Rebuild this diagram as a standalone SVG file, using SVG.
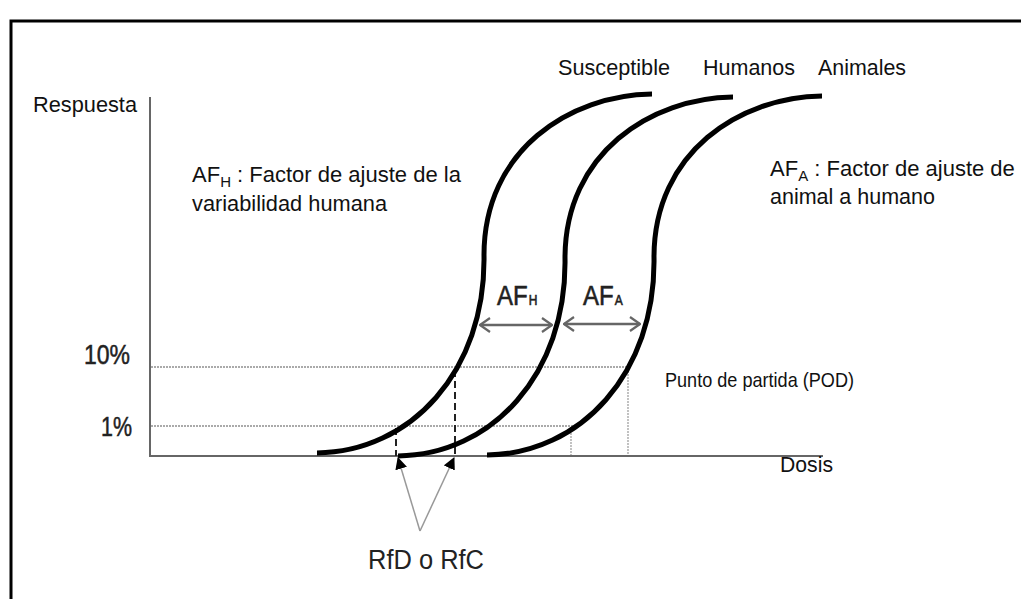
<svg xmlns="http://www.w3.org/2000/svg" width="1021" height="599" viewBox="0 0 1021 599">
<style>
.t{font-family:"Liberation Sans",Arial,sans-serif;fill:#111;font-size:22px}
.big{font-family:"Liberation Sans",Arial,sans-serif;fill:#222;font-size:27px}
.mid{font-family:"Liberation Sans",Arial,sans-serif;fill:#222;font-size:24px;stroke:#222;stroke-width:0.5}
.bold{stroke:#222;stroke-width:0.5}
.axis{stroke:#666;stroke-width:2;fill:none}
.dot{stroke:#aaa;stroke-width:2;stroke-dasharray:2 1;fill:none}
.vdot{stroke:#999;stroke-width:1.2;stroke-dasharray:2 1;fill:none}
.dash{stroke:#222;stroke-width:2;stroke-dasharray:7 4;fill:none}
.curve{stroke:#000;stroke-width:5;fill:none}
.dbl{stroke:#666;stroke-width:2.5;fill:none}
.ptr{stroke:#999;stroke-width:1.5;fill:none}
</style>
<defs>
<marker id="chev" viewBox="0 0 12 16" refX="11" refY="8" markerWidth="12" markerHeight="16" markerUnits="userSpaceOnUse" orient="auto-start-reverse">
<path d="M1 1 L11 8 L1 15" fill="none" stroke="#666" stroke-width="2.2"/>
</marker>
<marker id="tri" viewBox="0 0 12 12" refX="11" refY="6" markerWidth="12" markerHeight="12" markerUnits="userSpaceOnUse" orient="auto">
<path d="M0 0 L12 6 L0 12 Z" fill="#000"/>
</marker>
<path id="sig" d="M317 453 C410 452 486 372 484 255 C484 150 570 95 652 94"/>
</defs>
<rect x="11" y="21" width="1040" height="620" fill="#fff" stroke="#000" stroke-width="3"/>
<g id="axes">
<line class="axis" x1="150" y1="97" x2="150" y2="457"/>
<line class="axis" x1="149" y1="456" x2="823" y2="456"/>
</g>
<g id="guides">
<line class="dot" x1="151" y1="367" x2="628" y2="367"/>
<line class="dot" x1="151" y1="426" x2="573" y2="426"/>
<line class="vdot" x1="628" y1="368" x2="628" y2="455"/>
<line class="vdot" x1="571" y1="427" x2="571" y2="455"/>
<line class="dash" x1="455" y1="370" x2="455" y2="456"/>
<line class="dash" x1="396" y1="428" x2="396" y2="456"/>
</g>
<g id="curve-susceptible"><use href="#sig" class="curve"/></g>
<g id="curve-humanos"><use href="#sig" class="curve" transform="translate(81,3)"/></g>
<g id="curve-animales"><use href="#sig" class="curve" transform="translate(170,2)"/></g>
<g id="connectors">
<line class="dbl" x1="480" y1="325" x2="552" y2="325" marker-start="url(#chev)" marker-end="url(#chev)"/>
<line class="dbl" x1="564" y1="324" x2="640" y2="324" marker-start="url(#chev)" marker-end="url(#chev)"/>
<line class="ptr" x1="420" y1="531" x2="398" y2="458" marker-end="url(#tri)"/>
<line class="ptr" x1="420" y1="531" x2="454" y2="458" marker-end="url(#tri)"/>
</g>
<g id="labels">
<text class="t" x="33" y="112" textLength="104" lengthAdjust="spacingAndGlyphs">Respuesta</text>
<text class="t" x="558" y="75" textLength="112" lengthAdjust="spacingAndGlyphs">Susceptible</text>
<text class="t" x="703" y="75" textLength="92" lengthAdjust="spacingAndGlyphs">Humanos</text>
<text class="t" x="818" y="75" textLength="88" lengthAdjust="spacingAndGlyphs">Animales</text>
<text class="t" x="192" y="182">AF<tspan font-size="15" dy="5">H</tspan><tspan dy="-5"> : Factor de ajuste de la</tspan></text>
<text class="t" x="192" y="211" textLength="195" lengthAdjust="spacingAndGlyphs">variabilidad humana</text>
<text class="t" x="770" y="176">AF<tspan font-size="15" dy="5">A</tspan><tspan dy="-5"> : Factor de ajuste de</tspan></text>
<text class="t" x="770" y="204" textLength="165" lengthAdjust="spacingAndGlyphs">animal a humano</text>
<text class="t" x="665" y="387" style="font-size:21px" textLength="189" lengthAdjust="spacingAndGlyphs">Punto de partida (POD)</text>
<text class="t" x="780" y="472" textLength="53" lengthAdjust="spacingAndGlyphs">Dosis</text>
<text class="big bold" x="84" y="364" textLength="46" lengthAdjust="spacingAndGlyphs">10%</text>
<text class="big bold" x="101" y="436" textLength="31" lengthAdjust="spacingAndGlyphs">1%</text>
<text class="big" x="368" y="569" textLength="116" lengthAdjust="spacingAndGlyphs">RfD o RfC</text>
<text class="mid" transform="translate(497,305) scale(1,1.15)">AF<tspan dx="1" style="font-size:12px">H</tspan></text>
<text class="mid" transform="translate(583,305) scale(1,1.15)">AF<tspan dx="1" style="font-size:12px">A</tspan></text>
</g>
</svg>
